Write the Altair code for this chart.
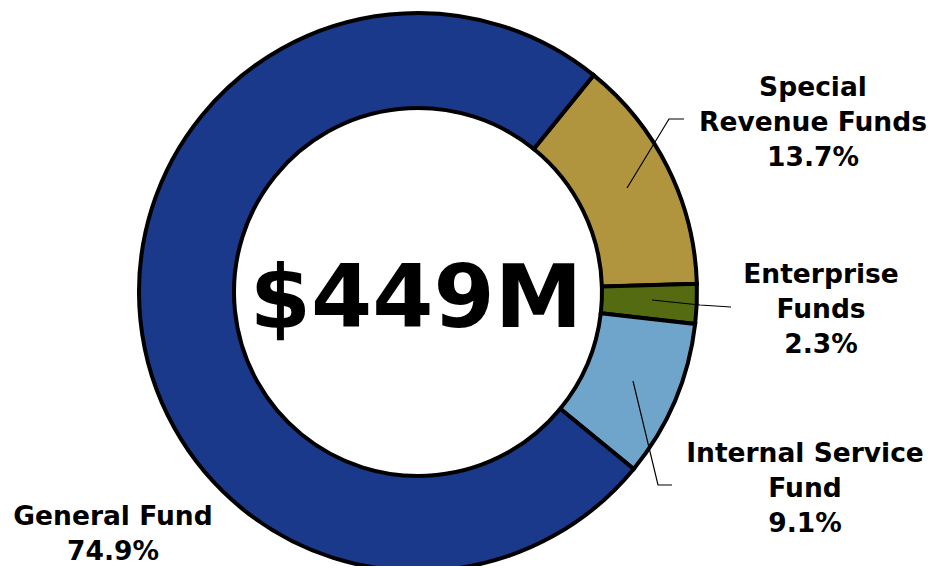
import math
import altair as alt
import pandas as pd

# ---------------- data ----------------
funds = ["Special Revenue Funds", "Enterprise Funds", "Internal Service Fund", "General Fund"]
shares = [13.7, 2.3, 9.1, 74.9]
name_lines = [["Special", "Revenue Funds"], ["Enterprise", "Funds"],
              ["Internal Service", "Fund"], ["General Fund"]]
total_label = "$449M"

# ---------------- styles / layout ----------------
colors = ["#b0953e", "#546b12", "#6fa5cb", "#1b398a"]
W, H = 933, 558
CX, CY = 410, 284
R_OUT, R_IN = 279, 184
START = math.radians(39)
FONT = "DejaVu Sans"
LABEL_SIZE = 26.5
LINE_H = 35.0
# label anchor (center x, first baseline y) per fund
label_pos = {
    "Special Revenue Funds": (805, 88),
    "Enterprise Funds": (813, 275),
    "Internal Service Fund": (797, 454),
    "General Fund": (105, 517),
}
# leader line pixel paths per fund
leaders = {
    "Special Revenue Funds": [(619, 180), (661, 111), (676, 111)],
    "Enterprise Funds": [(644, 292), (692, 297), (723, 299)],
    "Internal Service Fund": [(625, 373), (650, 477), (664, 477)],
}

df = pd.DataFrame({"fund": funds, "share": shares, "order": list(range(len(funds)))})

arc = alt.Chart(df).mark_arc(
    outerRadius=R_OUT, innerRadius=R_IN, stroke="black", strokeWidth=4
).encode(
    theta=alt.Theta("share:Q", stack=True,
                    scale=alt.Scale(domain=[0, 100], range=[START, START + 2 * math.pi])),
    color=alt.Color("fund:N", scale=alt.Scale(domain=funds, range=colors), legend=None),
    order=alt.Order("order:Q"),
    x=alt.value(CX),
    y=alt.value(CY),
)

rows = []
for f, s, lines in zip(funds, shares, name_lines):
    x0, y0 = label_pos[f]
    for i, t in enumerate(lines + [f"{s}%"]):
        rows.append({"text": t, "px": x0, "py": y0 + i * LINE_H})
tdf = pd.DataFrame(rows)

labels = alt.Chart(tdf).mark_text(
    font=FONT, fontSize=LABEL_SIZE, fontWeight="bold", align="center",
    baseline="alphabetic", color="black"
).encode(
    x=alt.X("px:Q", scale=None, axis=None),
    y=alt.Y("py:Q", scale=None, axis=None),
    text="text:N",
)

lrows = []
for f, pts in leaders.items():
    for k, (x, y) in enumerate(pts):
        lrows.append({"fund": f, "k": k, "px": x, "py": y})
ldf = pd.DataFrame(lrows)

lead = alt.Chart(ldf).mark_line(color="black", strokeWidth=1.2).encode(
    x=alt.X("px:Q", scale=None, axis=None),
    y=alt.Y("py:Q", scale=None, axis=None),
    detail="fund:N",
    order="k:Q",
)

center = alt.Chart(pd.DataFrame({"t": [total_label]})).mark_text(
    font=FONT, fontSize=88, fontWeight="bold", align="center",
    baseline="alphabetic", color="black"
).encode(
    x=alt.value(CX - 2),
    y=alt.value(319),
    text="t:N",
)

chart = alt.layer(arc, lead, labels, center).properties(
    width=W, height=H, autosize=alt.AutoSizeParams(type="none"), padding=0,
    background="white"
).configure_view(strokeWidth=0, stroke="transparent")

chart.save("out.html", embed_options={"renderer": "svg", "actions": False})
